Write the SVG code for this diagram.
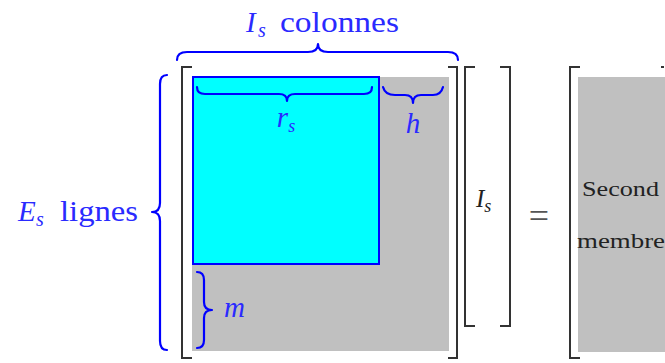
<svg xmlns="http://www.w3.org/2000/svg" width="665" height="363" viewBox="0 0 665 363">
<style>
.br{fill:none;stroke:#333;stroke-width:2}
.brace{fill:none;stroke:#0000ff;stroke-width:2.2;stroke-linejoin:round;stroke-linecap:round}
.bt{font-family:'Liberation Serif','DejaVu Serif',serif;fill:#2a2aff;font-size:29px}
.sub{font-family:'Liberation Serif','DejaVu Serif',serif;fill:#2a2aff;font-size:20px;font-style:italic}
.it{font-style:italic}
.kt{font-family:'Liberation Serif','DejaVu Serif',serif;fill:#222;font-size:21px}
</style>
<rect width="665" height="363" fill="#fff"/>
<g id="matrixA">
<rect x="192" y="77" width="257" height="274" fill="#c0c0c0"/>
<rect x="193" y="77" width="186" height="187" fill="#00ffff" stroke="#0000ff" stroke-width="2"/>
<path class="br" d="M192,67 H182 V358 H192"/>
<path class="br" d="M448,67 H457 V358 H448"/>
</g>
<g id="vectorI">
<path class="br" d="M475,67 H465 V326 H475"/>
<path class="br" d="M500,67 H510 V326 H500"/>
<text x="476" y="207" font-family="Liberation Serif, DejaVu Serif, serif" font-style="italic" font-size="25" fill="#222">I<tspan font-size="18" dy="5">s</tspan></text>
</g>
<g id="equals">
<text x="539" y="228" text-anchor="middle" font-family="Liberation Serif, DejaVu Serif, serif" font-size="36" fill="#555">=</text>
</g>
<g id="matrixB">
<rect x="578" y="77" width="87" height="275" fill="#c0c0c0"/>
<path class="br" d="M580,67 H570 V358 H580"/>
<path class="br" d="M661,67 H664"/>
<text class="kt" x="582" y="196" textLength="77" lengthAdjust="spacingAndGlyphs">Second</text>
<text class="kt" x="577" y="248" textLength="88" lengthAdjust="spacingAndGlyphs">membre</text>
</g>
<g id="braces">
<path class="brace" d="M177,60 Q177,52 187,52 L308,52 Q318,52 318,44 Q318,52 328,52 L448,52 Q458,52 458,60"/>
<path class="brace" d="M167,75 Q160,75 160,84 L160,203 Q160,212 152,212 Q160,212 160,221 L160,341 Q160,350 167,350"/>
<path class="brace" d="M197,87 Q197,94 205,94 L279,94 Q287,94 287,101 Q287,94 295,94 L364,94 Q372,94 372,87"/>
<path class="brace" d="M383,87 Q385,95 395,95 L405,95 Q413,95 413,103 Q413,95 421,95 L433,95 Q441,95 443,87"/>
<path class="brace" d="M197,272 Q204,272 204,280 L204,302 Q204,310 212,310 Q204,310 204,318 L204,340 Q204,348 197,348"/>
</g>
<g id="labels">
<text class="bt it" x="246" y="32">I</text>
<text class="sub" x="258" y="37">s</text>
<text class="bt" x="280" y="32" textLength="119" lengthAdjust="spacingAndGlyphs">colonnes</text>
<text class="bt it" x="18" y="221">E</text>
<text class="sub" x="36" y="226">s</text>
<text class="bt" x="60" y="221" textLength="78" lengthAdjust="spacingAndGlyphs">lignes</text>
<text class="bt it" x="286" y="127" text-anchor="middle" font-size="26">r<tspan font-size="18" dy="5">s</tspan></text>
<text class="bt it" x="413" y="133" text-anchor="middle" font-size="26">h</text>
<text class="bt it" x="224" y="317" font-size="28">m</text>
</g>
</svg>
